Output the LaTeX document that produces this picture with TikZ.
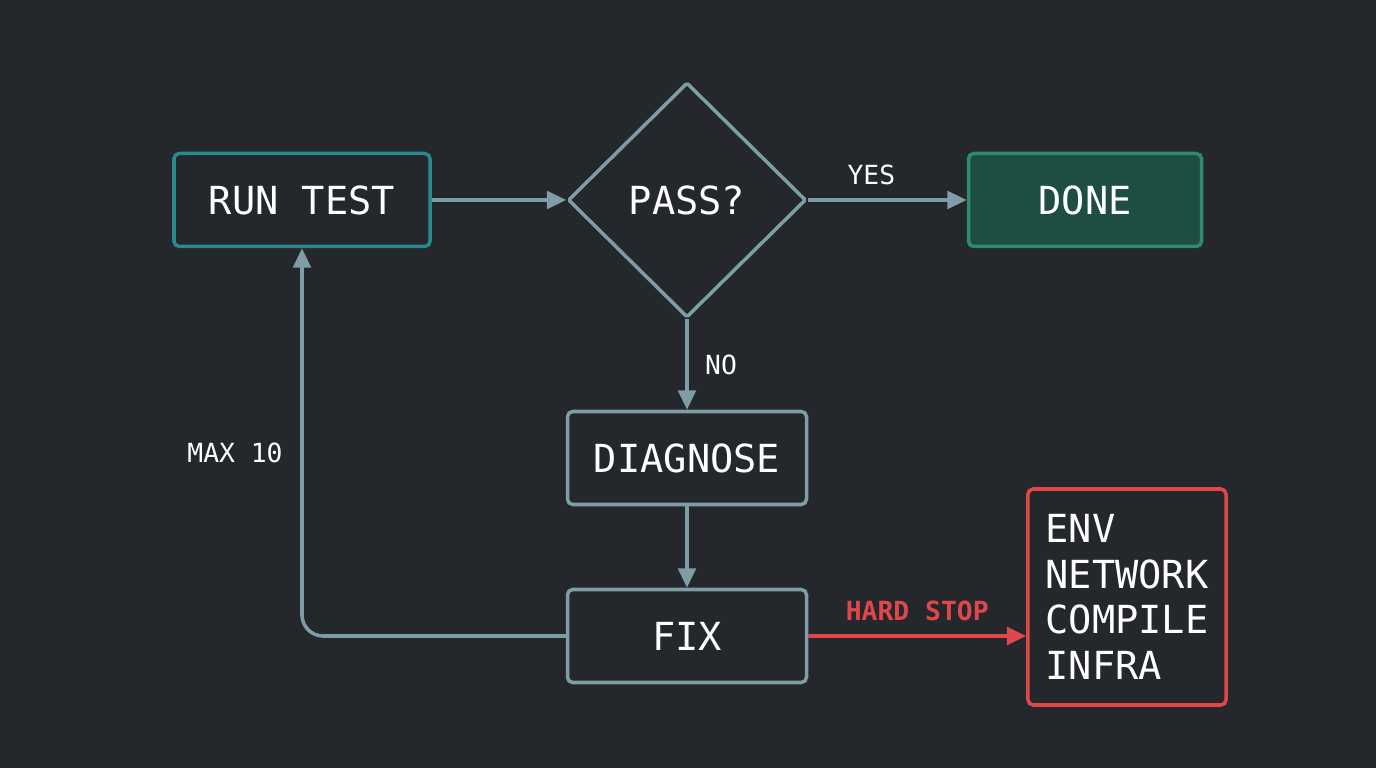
\documentclass[tikz,border=0pt]{standalone}
\usepackage{fontspec}
\setmonofont{DejaVu Sans Mono}
\usetikzlibrary{shapes.geometric,arrows.meta}
\definecolor{fond}{HTML}{24272B}
\definecolor{sarcelle}{HTML}{2A8A8C}
\definecolor{gris}{HTML}{7F9DA6}
\definecolor{vert}{HTML}{1E4D43}
\definecolor{vertbord}{HTML}{2E8C6E}
\definecolor{rouge}{HTML}{E0474A}
\begin{document}
\begin{tikzpicture}[font=\ttfamily]
		\tikzstyle{boite}=[draw=gris,line width=2pt,rounded corners=3pt,minimum width=4.78cm,minimum height=1.86cm,text=white,font=\ttfamily\fontsize{22}{26}\selectfont]
		\tikzstyle{fleche}=[draw=gris,line width=2pt,-{Triangle[length=11pt,width=10pt]}]
		\tikzstyle{etiquette}=[text=white,font=\ttfamily\fontsize{15}{18}\selectfont]
		\fill[fond] (0,0) rectangle (27.52,15.36);
		\node[boite,draw=sarcelle,minimum width=5.12cm] (Test) at (6.04,11.36) {RUN TEST};
		\node[boite,diamond,rounded corners=1pt,minimum width=4.76cm,minimum height=4.7cm,inner sep=0pt] (Pass) at (13.74,11.36) {PASS?};
		\node[boite,draw=vertbord,fill=vert,minimum width=4.66cm] (Done) at (21.7,11.36) {DONE};
		\node[boite] (Diag) at (13.74,6.2) {DIAGNOSE};
		\node[boite] (Fix) at (13.74,2.64) {FIX};
		\node[boite,draw=rouge,minimum width=3.86cm,minimum height=4.32cm,align=left,inner xsep=10pt] (Stop) at (22.54,3.42) {ENV\\NETWORK\\COMPILE\\INFRA};
		\coordinate (Coin) at (6.04,2.64);
		\draw[fleche] (Test)--(Pass);
		\draw[fleche] (Pass)--(Done) node[etiquette,pos=0.4,above=4pt] {YES};
		\draw[fleche] (Pass)--(Diag) node[etiquette,midway,right=6pt] {NO};
		\draw[fleche] (Diag)--(Fix);
		\draw[fleche,rounded corners=12pt] (Fix.west)--(Coin)--(Test.south);
		\node[etiquette] (Max) at (4.7,6.3) {MAX 10};
		\draw[fleche,draw=rouge,-{Triangle[length=11pt,width=10pt]}] (Fix)--(Stop.west|-Fix) node[etiquette,text=rouge,font=\ttfamily\bfseries\fontsize{15}{18}\selectfont,midway,above=4pt] {HARD STOP};
	\end{tikzpicture}
\end{document}
